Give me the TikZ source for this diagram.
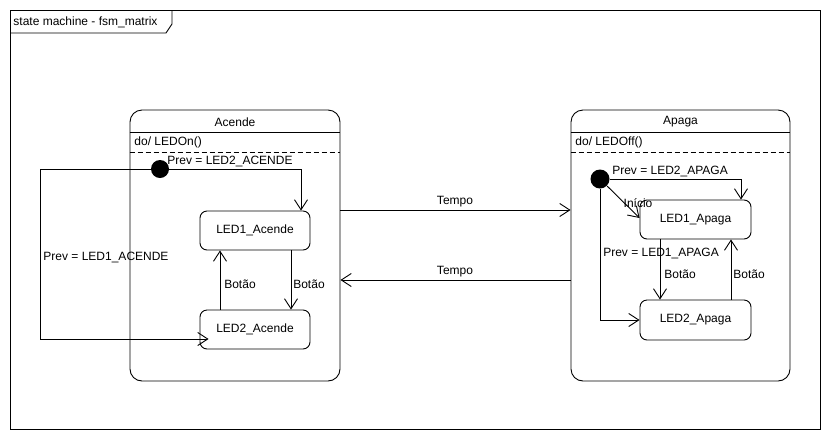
\documentclass[tikz,border=0pt]{standalone}
\usepackage{fontspec}
\setmainfont{Liberation Sans}
\usetikzlibrary{arrows.meta,calc}
\begin{document}
\begin{tikzpicture}[x=1pt,y=-1pt,line width=0.9pt,
  every node/.style={font=\fontsize{12}{14}\selectfont, inner sep=1pt},
  bigstate/.style={draw, rounded corners=12pt, inner sep=0pt},
  substate/.style={draw, rounded corners=7pt, minimum width=110pt, minimum height=39pt, inner sep=0pt},
  initdot/.style={circle, fill=black, minimum size=18pt, inner sep=0pt},
  trans/.style={-{Straight Barb[length=10pt,width=13pt,line width=0.9pt]}},
  sep/.style={dash pattern=on 5pt off 3pt}]
\useasboundingbox (0,0) rectangle (830,440);
% frame
\node[draw, minimum width=810pt, minimum height=419pt, anchor=north west, inner sep=0pt] (frame) at (10,10) {};
\node[anchor=west] (frametitle) at (12,22) {state machine - fsm\_matrix};
\draw (frame.north west) ++(0,0) coordinate (t0) (t0 |- 0,33) -- (166,33) -- (172,24) -- (172,10);
% Acende
\node[bigstate, minimum width=210pt, minimum height=271pt] (acende) at (235,245.5) {};
\node (acendeT) at (235,122) {Acende};
\draw (acende.west |- 0,132) -- (acende.east |- 0,132);
\node[anchor=west] (acendeDo) at (133,142) {do/ LEDOn()};
\draw[sep] (acende.west |- 0,152) -- (acende.east |- 0,152);
\node[initdot] (ia) at (160,169) {};
\node[substate] (led1a) at (255,230.5) {LED1\_Acende};
\node[substate] (led2a) at (255,329.5) {LED2\_Acende};
\draw[trans] (ia) -| ([xshift=46pt]led1a.north);
\node (la1) at (230,161) {Prev = LED2\_ACENDE};
\draw[trans] (ia) -- (40,169) |- ([shift={(9,9.5)}]led2a.west);
\node (la2) at (106,257) {Prev = LED1\_ACENDE};
\draw[trans] ([xshift=-35pt]led2a.north) -- ([xshift=-35pt]led1a.south);
\node (la3) at (240,284) {Botão};
\draw[trans] ([xshift=36pt]led1a.south) -- ([xshift=36pt]led2a.north);
\node (la4) at (309,284) {Botão};
% Apaga
\node[bigstate, minimum width=219pt, minimum height=271pt] (apaga) at (680.5,245.5) {};
\node (apagaT) at (680.5,122) {Apaga};
\draw (apaga.west |- 0,132) -- (apaga.east |- 0,132);
\node[anchor=west] (apagaDo) at (574,142) {do/ LEDOff()};
\draw[sep] (apaga.west |- 0,152) -- (apaga.east |- 0,152);
\node[initdot, minimum size=19pt] (ip) at (600,179) {};
\node[substate, minimum width=111pt] (led1p) at (695.5,219.5) {LED1\_Apaga};
\node[substate, minimum width=111pt, minimum height=40pt] (led2p) at (695.5,320) {LED2\_Apaga};
\draw[trans] (ip) -| ([xshift=45.5pt]led1p.north);
\node (lp1) at (670,171) {Prev = LED2\_APAGA};
\draw[trans] (ip) -- ([yshift=1.5pt]led1p.west);
\node (lp2) at (638,203) {Início};
\draw[trans] (ip) |- (led2p.west);
\node (lp3) at (661,253) {Prev = LED1\_APAGA};
\draw[trans] ([xshift=-35.5pt]led1p.south) -- ([xshift=-35.5pt]led2p.north);
\node (lp4) at (680,274) {Botão};
\draw[trans] ([xshift=35.5pt]led2p.north) -- ([xshift=35.5pt]led1p.south);
\node (lp5) at (749,274) {Botão};
% Tempo
\draw[trans] (acende.east |- 0,210) -- (apaga.west |- 0,210);
\node (lt1) at (455,202) {Tempo};
\draw[trans] (apaga.west |- 0,280) -- (acende.east |- 0,280);
\node (lt2) at (455,272) {Tempo};
\end{tikzpicture}
\end{document}
